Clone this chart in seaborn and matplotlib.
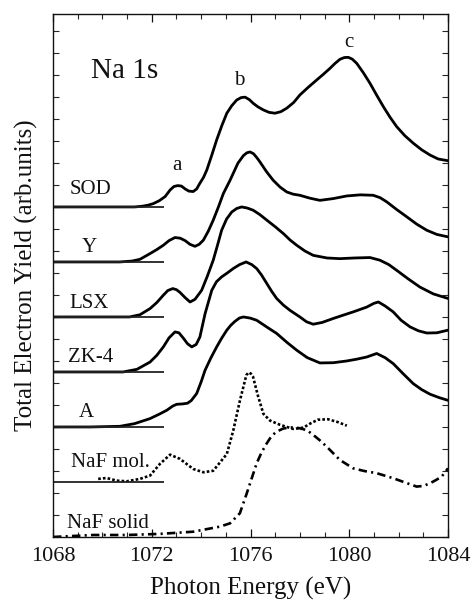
import matplotlib
matplotlib.use("Agg")
import matplotlib.pyplot as plt
import seaborn as sns
import pandas as pd
from matplotlib.ticker import MultipleLocator

# ---------------- data (photon energy in eV, intensity in arb. units) ----------------
sod_x = [1068.0, 1070.5, 1071.3, 1071.6, 1071.85, 1072.06, 1072.3, 1072.54, 1072.75, 1072.9,
         1073.05, 1073.2, 1073.35, 1073.5, 1073.68, 1073.82, 1073.95, 1074.1, 1074.23, 1074.43,
         1074.63, 1074.84, 1075.04, 1075.24, 1075.44, 1075.62, 1075.78, 1075.95, 1076.11, 1076.3,
         1076.52, 1076.75, 1076.99, 1077.23, 1077.47, 1077.75, 1078.0, 1078.35, 1078.68, 1078.95,
         1079.22, 1079.42, 1079.62, 1079.8, 1079.96, 1080.12, 1080.30, 1080.57, 1080.84, 1081.1,
         1081.38, 1081.65, 1081.92, 1082.25, 1082.59, 1082.93, 1083.27, 1083.6, 1084.0]
sod_y = [0.0, 0.0, 0.0, 0.03, 0.08, 0.15, 0.28, 0.47, 0.78, 0.93,
         0.97, 0.95, 0.82, 0.72, 0.70, 0.82, 1.08, 1.35, 1.68, 2.35,
         3.05, 3.70, 4.26, 4.60, 4.86, 4.97, 4.99, 4.88, 4.71, 4.55,
         4.41, 4.30, 4.26, 4.33, 4.49, 4.75, 5.09, 5.45, 5.77, 6.03,
         6.30, 6.52, 6.71, 6.79, 6.80, 6.72, 6.53, 6.10, 5.62, 5.10,
         4.56, 4.08, 3.65, 3.24, 2.90, 2.60, 2.36, 2.18, 2.10]

y_x = [1068.0, 1070.7, 1071.2, 1071.52, 1071.93, 1072.2, 1072.47, 1072.7, 1072.94, 1073.15,
       1073.35, 1073.55, 1073.75, 1073.92, 1074.09, 1074.29, 1074.49, 1074.7, 1074.90, 1075.17,
       1075.49, 1075.71, 1075.85, 1075.98, 1076.12, 1076.25, 1076.38, 1076.65, 1076.92, 1077.2,
       1077.47, 1077.73, 1078.0, 1078.4, 1078.81, 1079.35, 1079.90, 1080.45, 1080.97, 1081.25,
       1081.52, 1081.9, 1082.33, 1082.73, 1083.14, 1083.55, 1084.0]
y_y = [0.0, 0.0, 0.04, 0.12, 0.38, 0.56, 0.76, 0.97, 1.11, 1.08,
       0.97, 0.80, 0.71, 0.80, 0.99, 1.40, 1.90, 2.50, 3.11, 3.71,
       4.49, 4.83, 4.96, 5.0, 4.92, 4.75, 4.55, 4.10, 3.71, 3.40,
       3.18, 3.08, 3.03, 2.90, 2.80, 2.88, 3.0, 3.05, 3.03, 2.92,
       2.73, 2.40, 2.05, 1.72, 1.44, 1.25, 1.14]

lsx_x = [1068.0, 1071.1, 1071.52, 1071.93, 1072.2, 1072.47, 1072.65, 1072.85, 1073.0, 1073.14,
         1073.35, 1073.55, 1073.75, 1074.02, 1074.25, 1074.49, 1074.66, 1074.83, 1075.03, 1075.24,
         1075.44, 1075.64, 1075.87, 1076.11, 1076.38, 1076.66, 1077.0, 1077.33, 1077.6, 1077.87,
         1078.2, 1078.54, 1079.1, 1079.62, 1080.2, 1080.84, 1081.24, 1081.6, 1081.92, 1082.4,
         1082.86, 1083.4, 1084.0]
lsx_y = [0.0, 0.0, 0.10, 0.38, 0.65, 0.99, 1.20, 1.29, 1.24, 1.12,
         0.88, 0.68, 0.80, 1.21, 1.85, 2.58, 3.25, 3.94, 4.45, 4.77,
         4.93, 5.0, 4.95, 4.85, 4.65, 4.40, 4.10, 3.79, 3.50, 3.26,
         3.0, 2.80, 2.68, 2.65, 2.68, 2.70, 2.58, 2.38, 2.12, 1.72,
         1.36, 1.05, 0.84]

zk4_x = [1068.0, 1070.84, 1071.4, 1071.93, 1072.2, 1072.47, 1072.7, 1072.94, 1073.1, 1073.27,
         1073.45, 1073.62, 1073.8, 1073.95, 1074.16, 1074.43, 1074.62, 1074.83, 1075.06, 1075.30,
         1075.56, 1075.82, 1076.05, 1076.25, 1076.45, 1076.66, 1076.86, 1077.06, 1077.33, 1077.60,
         1078.0, 1078.27, 1078.54, 1078.9, 1079.35, 1079.75, 1080.16, 1080.71, 1081.0, 1081.18,
         1081.45, 1081.78, 1082.1, 1082.46, 1082.8, 1083.14, 1083.55, 1084.0]
zk4_y = [0.0, 0.0, 0.12, 0.45, 0.75, 1.14, 1.55, 1.82, 1.78, 1.55,
         1.28, 1.14, 1.25, 1.59, 2.65, 3.71, 4.10, 4.32, 4.50, 4.70,
         4.88, 5.0, 4.88, 4.70, 4.40, 4.02, 3.66, 3.34, 3.04, 2.80,
         2.50, 2.28, 2.17, 2.25, 2.43, 2.58, 2.73, 2.95, 3.12, 3.18,
         3.0, 2.73, 2.35, 2.05, 1.87, 1.77, 1.78, 1.90]

a_x = [1068.0, 1069.5, 1070.71, 1071.3, 1071.93, 1072.3, 1072.61, 1072.85, 1073.01, 1073.27,
       1073.45, 1073.6, 1073.82, 1074.0, 1074.16, 1074.4, 1074.63, 1074.84, 1075.04, 1075.2,
       1075.37, 1075.55, 1075.71, 1075.98, 1076.25, 1076.65, 1077.06, 1077.47, 1077.87, 1078.3,
       1078.81, 1079.35, 1079.90, 1080.3, 1080.71, 1081.11, 1081.45, 1081.78, 1082.2, 1082.59,
       1082.93, 1083.27, 1083.65, 1084.0]
a_y = [0.0, 0.0, 0.03, 0.15, 0.38, 0.58, 0.76, 0.95, 1.03, 1.05,
       1.08, 1.20, 1.52, 2.05, 2.58, 3.15, 3.64, 4.05, 4.40, 4.62,
       4.80, 4.95, 5.0, 4.95, 4.85, 4.55, 4.25, 3.85, 3.49, 3.15,
       2.91, 2.92, 3.0, 3.08, 3.18, 3.34, 3.15, 2.88, 2.40, 1.97,
       1.70, 1.49, 1.33, 1.21]

nafmol_x = [1069.83, 1070.17, 1070.58, 1070.99, 1071.52, 1071.93, 1072.33, 1072.74, 1073.14, 1073.68,
            1074.09, 1074.49, 1075.04, 1075.30, 1075.57, 1075.74, 1075.83, 1075.92, 1076.02, 1076.10,
            1076.30, 1076.52, 1076.79, 1077.19, 1077.73, 1078.14, 1078.41, 1078.73, 1079.14, 1079.54,
            1079.90]
nafmol_y = [0.14, 0.18, 0.06, 0.03, 0.14, 0.29, 0.82, 1.24, 1.05, 0.59,
            0.44, 0.51, 1.27, 2.33, 3.70, 4.45, 4.85, 4.98, 4.92, 4.79,
            3.92, 3.10, 2.79, 2.60, 2.41, 2.47, 2.65, 2.83, 2.85, 2.72,
            2.56]

nafsol_x = [1068.0, 1069.63, 1070.98, 1072.33, 1073.68, 1074.76, 1075.17, 1075.57, 1075.85, 1076.25,
            1076.45, 1076.66, 1076.86, 1077.06, 1077.33, 1077.60, 1077.87, 1078.14, 1078.35, 1078.54,
            1078.8, 1079.09, 1079.62, 1080.16, 1080.6, 1081.11, 1081.78, 1082.2, 1082.73, 1083.0,
            1083.27, 1083.5, 1083.74, 1084.0]
nafsol_y = [0.0, 0.09, 0.09, 0.14, 0.24, 0.47, 0.62, 1.08, 1.99, 3.35,
            3.85, 4.26, 4.60, 4.79, 4.93, 4.98, 4.97, 4.90, 4.80, 4.64,
            4.40, 4.10, 3.50, 3.12, 3.00, 2.90, 2.67, 2.50, 2.29, 2.32,
            2.44, 2.58, 2.74, 3.12]

samples = ["SOD", "Y", "LSX", "ZK-4", "A", "NaF mol.", "NaF solid"]
offsets = [15.0, 12.5, 10.0, 7.5, 5.0, 2.5, 0.0]
label_x = [1069.50, 1069.46, 1069.46, 1069.54, 1069.36, 1070.31, 1070.23]
label_y = [15.59, 12.97, 10.40, 7.97, 5.47, 3.20, 0.40]
baseline_end = 1072.5

peak_labels = ["a", "b", "c"]
peak_x = [1073.0, 1075.53, 1079.99]
peak_y = [16.68, 20.55, 22.29]

# ---------------- figure ----------------
sns.set_theme(style="white")
plt.rcParams["font.family"] = ["Liberation Serif", "DejaVu Serif"]

fig = plt.figure(figsize=(4.72, 6.03), dpi=100)
ax = fig.add_axes([0.1123, 0.1095, 0.9492 - 0.1123, 0.9768 - 0.1095])

series = [(sod_x, sod_y), (y_x, y_y), (lsx_x, lsx_y), (zk4_x, zk4_y), (a_x, a_y),
          (nafmol_x, nafmol_y), (nafsol_x, nafsol_y)]
styles = ["-", "-", "-", "-", "-", (0, (1.0, 0.8)), (0, (3.2, 1.6, 0.8, 1.6))]

for name, (xs, ys), off, ls in zip(samples, series, offsets, styles):
    df = pd.DataFrame({"energy": xs, "intensity": [v + off for v in ys]})
    lw = 2.0 if ls == "-" else 1.9
    sns.lineplot(data=df, x="energy", y="intensity", ax=ax, color="black",
                 linewidth=lw, linestyle=ls, estimator=None, sort=False)

# baselines
for off in offsets[:-1]:
    ax.plot([1068, baseline_end], [off, off], color="#222222", linewidth=1.3, solid_capstyle="butt")

# labels of samples
for name, lx, ly in zip(samples, label_x, label_y):
    ax.text(lx, ly, name, ha="center", va="baseline", fontsize=15, color="#111111")

for t, px, py in zip(peak_labels, peak_x, peak_y):
    ax.text(px, py, t, ha="center", va="baseline", fontsize=15, color="#111111")

ax.text(1069.52, 20.86, "Na 1s", ha="left", va="baseline", fontsize=21, color="#111111")

ax.set_xlim(1068, 1084)
ax.set_ylim(0, 23.77)
ax.xaxis.set_major_locator(MultipleLocator(4))
ax.xaxis.set_minor_locator(MultipleLocator(1))
ax.yaxis.set_major_locator(MultipleLocator(1))
ax.set_yticklabels([])
ax.tick_params(axis="x", which="major", direction="in", length=6, width=0.9, top=True,
               bottom=True, labelsize=16, pad=7, colors="#111111")
ax.tick_params(axis="x", which="minor", direction="in", length=3.5, width=0.8, top=True, bottom=True)
ax.tick_params(axis="y", which="major", direction="in", length=4, width=0.8, left=True, right=True)
for s in ax.spines.values():
    s.set_color("#111111")
    s.set_linewidth(1.0)

ax.set_xlabel("Photon Energy (eV)", fontsize=18, labelpad=8, color="#111111")
ax.set_ylabel("Total Electron Yield (arb.units)", fontsize=18, labelpad=7, color="#111111")

fig.savefig("out.png", dpi=100)
